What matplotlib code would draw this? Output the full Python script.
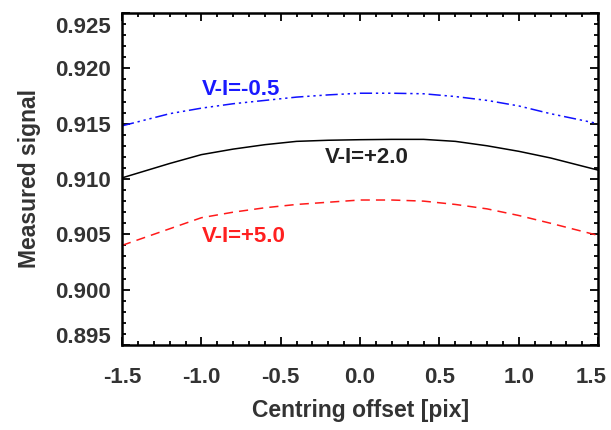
import numpy as np
import matplotlib
matplotlib.use("Agg")
import matplotlib.pyplot as plt
from matplotlib.ticker import MultipleLocator, FormatStrFormatter
from matplotlib.transforms import ScaledTranslation

plt.rcParams['font.family'] = ['Liberation Sans', 'DejaVu Sans']
plt.rcParams['font.weight'] = 'bold'

# centring offsets
offset = [-1.5, -1.2, -1.0, -0.8, -0.6, -0.4, -0.2, 0.0, 0.2, 0.4, 0.6, 0.8, 1.0, 1.2, 1.5]
sig_m05 = [0.9148, 0.9159, 0.9164, 0.9168, 0.9171, 0.9174, 0.9176, 0.91775, 0.91775,
           0.9177, 0.91745, 0.9171, 0.9166, 0.9159, 0.9150]
sig_p20 = [0.9101, 0.9114, 0.9122, 0.9127, 0.9131, 0.9134, 0.9135, 0.91355, 0.91358,
           0.91358, 0.9134, 0.9130, 0.9125, 0.9119, 0.9108]
sig_p50 = [0.9040, 0.9055, 0.9065, 0.9070, 0.9074, 0.9077, 0.9079, 0.9081, 0.9081,
           0.9080, 0.9077, 0.9073, 0.9067, 0.9060, 0.9049]

grey = '#333333'

fig = plt.figure(figsize=(6.11, 4.30), dpi=100)
ax = fig.add_axes([0.1997, 0.1977, 0.979 - 0.1997, 0.9698 - 0.1977])

ax.plot(offset, sig_m05, color='#1010ff', lw=1.1,
        linestyle=(0, (8, 2.5, 1.5, 2.5, 1.5, 2.5, 1.5, 2.5)))
ax.plot(offset, sig_p20, color='black', lw=1.1, linestyle='-')
ax.plot(offset, sig_p50, color='#ff1a1a', lw=1.1, linestyle=(0, (6, 4)))

ax.text(-1.0, 0.9181, 'V-I=-0.5', color='#1a1aff', fontsize=16, fontweight='bold', va='center')
ax.text(-0.22, 0.9119, 'V-I=+2.0', color='#222222', fontsize=16, fontweight='bold', va='center')
ax.text(-1.0, 0.9048, 'V-I=+5.0', color='#ff2020', fontsize=16, fontweight='bold', va='center')

ax.set_xlim(-1.5, 1.5)
ax.set_ylim(0.895, 0.925)
ax.xaxis.set_major_locator(MultipleLocator(0.5))
ax.xaxis.set_minor_locator(MultipleLocator(0.1))
ax.yaxis.set_major_locator(MultipleLocator(0.005))
ax.yaxis.set_minor_locator(MultipleLocator(0.001))
ax.xaxis.set_major_formatter(FormatStrFormatter('%.1f'))
ax.yaxis.set_major_formatter(FormatStrFormatter('%.3f'))

ax.tick_params(which='both', direction='in', top=True, right=True, width=1.3, colors='black')
ax.tick_params(which='major', length=6)
ax.tick_params(which='minor', length=3)
ax.tick_params(axis='x', which='major', pad=16, labelsize=16, labelcolor=grey)
ax.tick_params(axis='y', which='major', pad=8, labelsize=16, labelcolor=grey)
for s in ax.spines.values():
    s.set_linewidth(1.8)

ax.set_xlabel('Centring offset [pix]', fontsize=16.5, fontweight='bold', color=grey, labelpad=8)
ax.set_ylabel('Measured signal', fontsize=16.5, fontweight='bold', color=grey, labelpad=10)

# end labels sit inside the axis range, like the original
fig.canvas.draw()
shift = {'0.925': (0, -12), '0.895': (0, 10)}
for lab in ax.get_yticklabels():
    if lab.get_text() in shift:
        dx, dy = shift[lab.get_text()]
        lab.set_transform(lab.get_transform() + ScaledTranslation(dx / 100, dy / 100, fig.dpi_scale_trans))
for lab in ax.get_xticklabels():
    if lab.get_text() == '1.5':
        lab.set_transform(lab.get_transform() + ScaledTranslation(-7 / 100, 0, fig.dpi_scale_trans))

fig.savefig('out.png', dpi=100)
